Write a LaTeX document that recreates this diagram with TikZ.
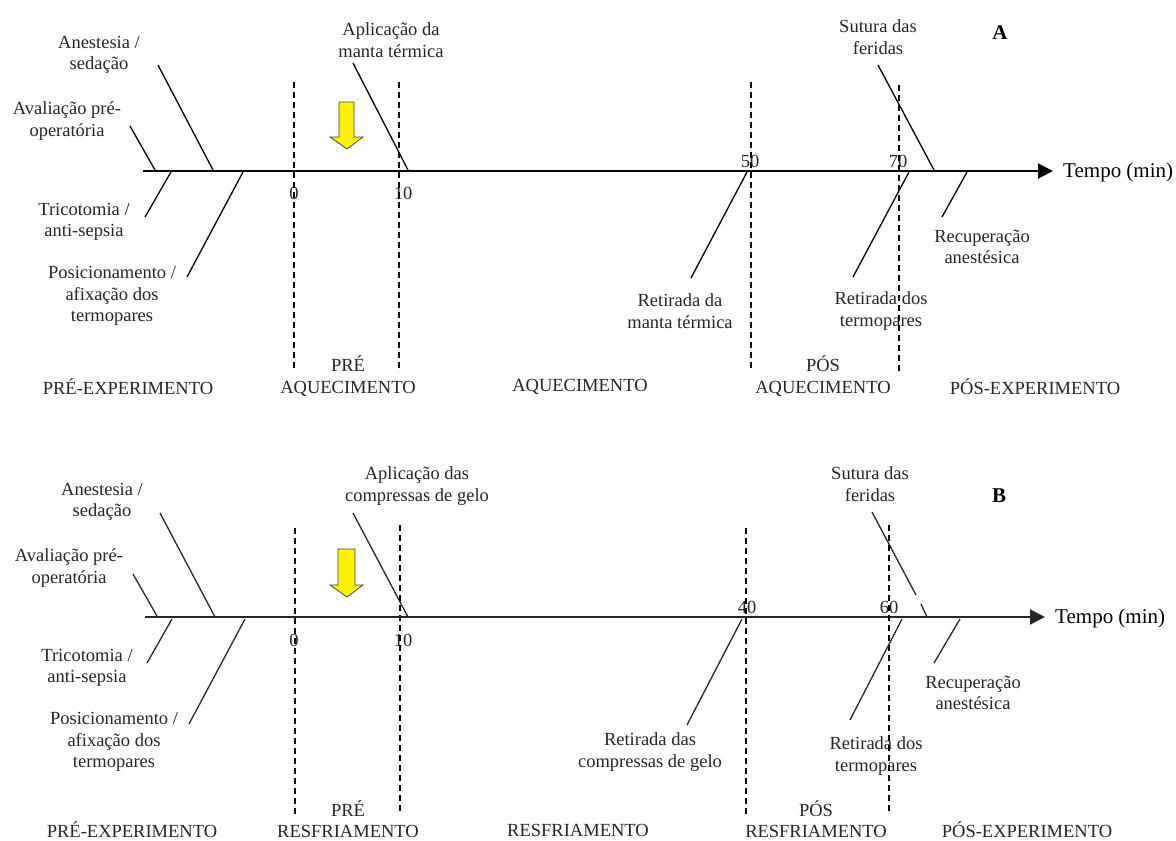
\documentclass[tikz,border=0pt]{standalone}
\usepackage{fontspec}
\setmainfont{Liberation Serif}
\usetikzlibrary{arrows.meta}

\tikzset{
  lbl/.style={align=center, inner sep=0pt, text=black!85, font=\fontsize{18.5}{21.5}\selectfont},
  tempo/.style={inner sep=0pt, anchor=west, font=\fontsize{21}{24}\selectfont},
  tag/.style={inner sep=0pt, font=\fontsize{21}{24}\selectfont\bfseries},
  axis/.style={line width=2pt, -{Triangle[length=15pt,width=15pt]}},
  bone/.style={line width=1.3pt},
  divider/.style={line width=1.3pt, dash pattern=on 6pt off 4pt},
  pointer/.style={fill=yellow, draw=black!75, line width=0.8pt, line join=miter}
}

\begin{document}
\begin{tikzpicture}[x=1pt,y=-1pt]
    \useasboundingbox (0,0) rectangle (1176,841);

    % ---------- A: aquecimento ----------
    \node[tag] (A) at (1000,33) {A};
    \coordinate (o1) at (143,171);
    \node[tempo] (t1) at (1063,172) {Tempo (min)};
    \draw[axis, shorten >=10pt] (o1) -- (o1 -| t1.west);

    \node[lbl] (a1) at (99,55) {Anestesia /\\sedação};
    \node[lbl] (a2) at (67,121) {Avaliação pré-\\operatória};
    \node[lbl] (a3) at (84,222) {Tricotomia /\\anti-sepsia};
    \node[lbl] (a4) at (112,296) {Posicionamento /\\afixação dos\\termopares};
    \node[lbl] (a5) at (391,40) {Aplicação da\\manta térmica};
    \node[lbl] (a6) at (680,311) {Retirada da\\manta térmica};
    \node[lbl] (a7) at (878,37) {Sutura das\\feridas};
    \node[lbl] (a8) at (881,311) {Retirada dos\\termopares};
    \node[lbl] (a9) at (982,247) {Recuperação\\anestésica};

    \node[lbl] (n0) at (294,193) {0};
    \node[lbl] (n10) at (403,193) {10};
    \node[lbl] (n50) at (750,161) {50};
    \node[lbl] (n70) at (898,161) {70};

    \node[lbl] (f1) at (128,387) {PRÉ-EXPERIMENTO};
    \node[lbl] (f2) at (348,376) {PRÉ\\AQUECIMENTO};
    \node[lbl] (f3) at (580,387) {AQUECIMENTO};
    \node[lbl] (f4) at (823,376) {PÓS\\AQUECIMENTO};
    \node[lbl] (f5) at (1035,387) {PÓS-EXPERIMENTO};

    \draw[divider] (294,82) -- (294,370);
    \draw[divider] (399,82) -- (399,372);
    \draw[divider] (751,82) -- (751,370);
    \draw[divider] (899,85) -- (899,375);

    \coordinate (p1) at (158,65);  \coordinate (q1) at (213,170);
    \coordinate (p2) at (130,126); \coordinate (q2) at (155,170);
    \coordinate (p3) at (145,217); \coordinate (q3) at (171,172);
    \coordinate (p4) at (187,277); \coordinate (q4) at (243,172);
    \coordinate (p5) at (353,63);  \coordinate (q5) at (408,170);
    \coordinate (p6) at (691,278); \coordinate (q6) at (747,172);
    \coordinate (p7) at (878,65);  \coordinate (q7) at (934,170);
    \coordinate (p8) at (853,277); \coordinate (q8) at (909,172);
    \coordinate (p9) at (942,217); \coordinate (q9) at (967,172);
    \path[bone]
    (p1) edge (q1) (p2) edge (q2) (p3) edge (q3)
    (p4) edge (q4) (p5) edge (q5) (p6) edge (q6)
    (p7) edge (q7) (p8) edge (q8) (p9) edge (q9);

    \draw[pointer] (339,102) -- (354,102) -- (354,137) -- (363,137) -- (347,149)
      -- (330,137) -- (339,137) -- cycle;

    % ---------- B: resfriamento ----------
    \node[tag] (B) at (999,496) {B};
    \coordinate (o2) at (145,617);
    \node[tempo] (t2) at (1055,618) {Tempo (min)};
    \draw[axis, draw=black!85, shorten >=10pt] (o2) -- (o2 -| t2.west);

    \node[lbl] (b1) at (102,502) {Anestesia /\\sedação};
    \node[lbl] (b2) at (69,568) {Avaliação pré-\\operatória};
    \node[lbl] (b3) at (87,668) {Tricotomia /\\anti-sepsia};
    \node[lbl] (b4) at (114,742) {Posicionamento /\\afixação dos\\termopares};
    \node[lbl] (b5) at (417,486) {Aplicação das\\compressas de gelo};
    \node[lbl] (b6) at (650,752) {Retirada das\\compressas de gelo};
    \node[lbl] (b7) at (870,484) {Sutura das\\feridas};
    \node[lbl] (b8) at (876,756) {Retirada dos\\termopares};
    \node[lbl] (b9) at (973,693) {Recuperação\\anestésica};

    \node[lbl] (m0) at (294,640) {0};
    \node[lbl] (m10) at (403,640) {10};
    \node[lbl] (m40) at (747,607) {40};
    \node[lbl] (m60) at (889,607) {60};

    \node[lbl] (g1) at (132,830) {PRÉ-EXPERIMENTO};
    \node[lbl] (g2) at (348,819) {PRÉ\\RESFRIAMENTO};
    \node[lbl] (g3) at (578,830) {RESFRIAMENTO};
    \node[lbl] (g4) at (816,819) {PÓS\\RESFRIAMENTO};
    \node[lbl] (g5) at (1027,830) {PÓS-EXPERIMENTO};

    \draw[divider] (295,528) -- (295,817);
    \draw[divider] (400,525) -- (400,812);
    \draw[divider] (746,528) -- (746,817);
    \draw[divider] (889,525) -- (889,813);

    \coordinate (r1) at (160,513); \coordinate (s1) at (215,617);
    \coordinate (r2) at (133,574); \coordinate (s2) at (157,616);
    \coordinate (r3) at (147,663); \coordinate (s3) at (172,619);
    \coordinate (r4) at (189,724); \coordinate (s4) at (245,619);
    \coordinate (r5) at (353,513); \coordinate (s5) at (408,617);
    \coordinate (r6) at (687,725); \coordinate (s6) at (742,619);
    \coordinate (r7) at (872,512); \coordinate (s7) at (916,595);
    \coordinate (u7) at (921,604); \coordinate (v7) at (927,617);
    \coordinate (r8) at (850,720); \coordinate (s8) at (902,619);
    \coordinate (r9) at (934,663); \coordinate (s9) at (960,619);
    \path[bone, draw=black!85]
    (r1) edge (s1) (r2) edge (s2) (r3) edge (s3)
    (r4) edge (s4) (r5) edge (s5) (r6) edge (s6)
    (r7) edge (s7) (u7) edge (v7) (r8) edge (s8) (r9) edge (s9);

    \draw[pointer] (338,549) -- (355,549) -- (355,585) -- (363,585) -- (347,597)
      -- (330,585) -- (338,585) -- cycle;
\end{tikzpicture}
\end{document}
